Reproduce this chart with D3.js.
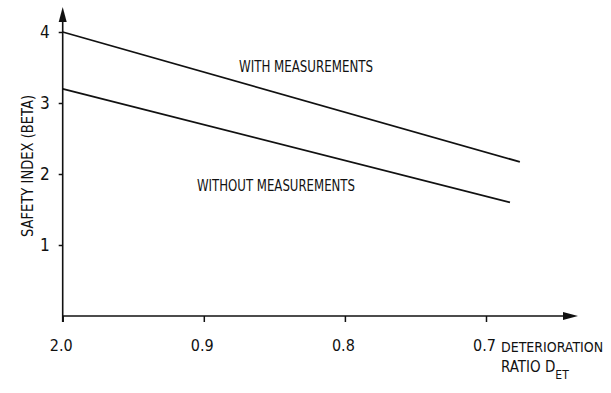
<!DOCTYPE html>
<html>
<head>
<meta charset="utf-8">
<script src="https://cdn.jsdelivr.net/npm/d3@7"></script>
<style>
  body { margin: 0; background: #fff; }
  svg text { font-family: "Liberation Sans Narrow", "DejaVu Sans Condensed", "Roboto Condensed", sans-serif; fill: #111; }
</style>
</head>
<body>
<div id="chart"></div>
<script>
// deterioration ratio ticks (the first one is printed "2.0" in the original)
const ratioTicks = [1.0, 0.9, 0.8, 0.7]
const ratioTickLabels = ["2.0", "0.9", "0.8", "0.7"]
const betaTicks = [1, 2, 3, 4]

const seriesNames = ["WITH MEASUREMENTS", "WITHOUT MEASUREMENTS"]
const withMeasurements = [{ ratio: 1.0, beta: 4.0 }, { ratio: 0.676, beta: 2.17 }]
const withoutMeasurements = [{ ratio: 1.0, beta: 3.2 }, { ratio: 0.683, beta: 1.6 }]

const width = 611, height = 393

const svg = d3.select("#chart").append("svg")
    .attr("width", width)
    .attr("height", height)

// scales
const x = d3.scaleLinear().domain([1.0, 0.7]).range([62.7, 486])
const y = d3.scaleLinear().domain([0, 4]).range([316, 32])

const axisColor = "#111"

// axis lines with arrow heads
svg.append("line")
    .attr("x1", x(1.0)).attr("y1", y(0) + 6)
    .attr("x2", x(1.0)).attr("y2", 20)
    .attr("stroke", axisColor).attr("stroke-width", 1.6)
svg.append("path")
    .attr("d", `M${x(1.0) - 4},22 L${x(1.0)},7 L${x(1.0) + 4},22 Z`)
    .attr("fill", axisColor)

svg.append("line")
    .attr("x1", x(1.0)).attr("y1", y(0))
    .attr("x2", 565).attr("y2", y(0))
    .attr("stroke", axisColor).attr("stroke-width", 1.6)
svg.append("path")
    .attr("d", `M563,${y(0) - 4} L578,${y(0)} L563,${y(0) + 4} Z`)
    .attr("fill", axisColor)

// y axis ticks + labels
const yAxis = svg.append("g")
    .attr("transform", `translate(${x(1.0)},0)`)
    .call(d3.axisLeft(y).tickValues(betaTicks).tickSizeInner(4).tickSizeOuter(0).tickPadding(9).tickFormat(d3.format("d")))
yAxis.select(".domain").remove()
yAxis.selectAll("line").attr("stroke", axisColor).attr("stroke-width", 1.5)
yAxis.selectAll("text").style("font-size", "17px").attr("fill", axisColor)

// x axis ticks + labels
const xAxis = svg.append("g")
    .attr("transform", `translate(0,${y(0)})`)
    .call(d3.axisBottom(x).tickValues(ratioTicks).tickSizeInner(6).tickSizeOuter(0).tickPadding(18)
        .tickFormat((d, i) => ratioTickLabels[i]))
xAxis.select(".domain").remove()
xAxis.selectAll("line").attr("stroke", axisColor).attr("stroke-width", 1.5)
xAxis.selectAll("text").style("font-size", "16px").attr("fill", axisColor)
    .attr("dx", -2)

// series lines
const line = d3.line().x(d => x(d.ratio)).y(d => y(d.beta))
;[withMeasurements, withoutMeasurements].forEach(s => {
    svg.append("path")
        .datum(s)
        .attr("d", line)
        .attr("fill", "none")
        .attr("stroke", "#111")
        .attr("stroke-width", 1.8)
})

// series labels
svg.append("text").attr("x", 239).attr("y", 72)
    .style("font-size", "16px").attr("textLength", 134).attr("lengthAdjust", "spacingAndGlyphs")
    .text(seriesNames[0])
svg.append("text").attr("x", 197).attr("y", 191)
    .style("font-size", "16px").attr("textLength", 158).attr("lengthAdjust", "spacingAndGlyphs")
    .text(seriesNames[1])

// y title
svg.append("text")
    .attr("transform", "translate(33,166) rotate(-90)")
    .attr("text-anchor", "middle")
    .style("font-size", "16px")
    .attr("textLength", 142).attr("lengthAdjust", "spacingAndGlyphs")
    .text("SAFETY INDEX (BETA)")

// x title
svg.append("text").attr("x", 501).attr("y", 352)
    .style("font-size", "14px")
    .text("DETERIORATION")
const ratioTitle = svg.append("text").attr("x", 501).attr("y", 372)
    .style("font-size", "15px")
ratioTitle.append("tspan").text("RATIO D")
ratioTitle.append("tspan").attr("dy", 7).style("font-size", "12px").text("ET")
</script>
</body>
</html>
